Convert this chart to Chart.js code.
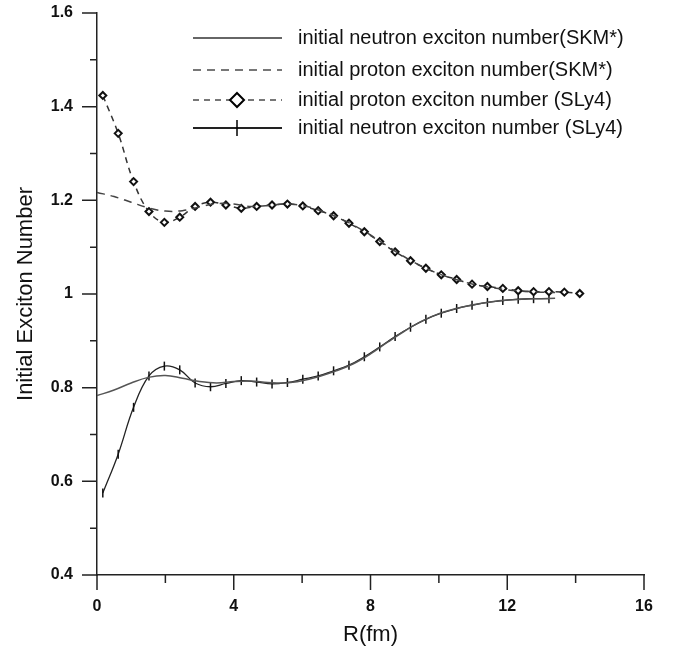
<!DOCTYPE html>
<html>
<head>
<meta charset="utf-8">
<script src="https://cdn.jsdelivr.net/npm/chart.js@4"></script>
<style>
  html, body { margin: 0; padding: 0; background: #fff; }
  #wrap { width: 684px; height: 649px; }
</style>
</head>
<body>
<div id="wrap"><canvas id="chart" width="684" height="649"></canvas></div>
<script>
// radii (fm) of the SKM* curves and of the SLy4 markers
const rSKM = [0, 0.5, 1.0, 1.5, 2.0, 2.5, 3.0, 3.5, 4.0, 4.5, 5.0, 5.5, 6.0, 6.5, 7.0,
    7.5, 8.0, 8.5, 9.0, 9.5, 10.0, 10.5, 11.0, 11.5, 12.0, 12.5, 13.0, 13.4];
const rSLy = [0.17, 0.62, 1.07, 1.52, 1.97, 2.42, 2.87, 3.32, 3.77, 4.22, 4.67, 5.12,
    5.57, 6.02, 6.47, 6.92, 7.37, 7.82, 8.27, 8.72, 9.17, 9.62, 10.07, 10.52, 10.97,
    11.42, 11.87, 12.32, 12.77, 13.22, 13.67, 14.12];

const neutronSKM = [0.783, 0.795, 0.810, 0.822, 0.826, 0.820, 0.813, 0.810, 0.813, 0.814,
    0.811, 0.810, 0.815, 0.824, 0.836, 0.851, 0.872, 0.897, 0.921, 0.942, 0.958, 0.969,
    0.977, 0.983, 0.987, 0.989, 0.990, 0.991];
const protonSKM = [1.217, 1.208, 1.196, 1.184, 1.177, 1.178, 1.186, 1.193, 1.192, 1.187,
    1.189, 1.192, 1.189, 1.179, 1.165, 1.147, 1.126, 1.102, 1.079, 1.059, 1.043, 1.031,
    1.021, 1.014, 1.009, 1.006, 1.004, 1.003];
const protonSLy = [1.424, 1.343, 1.240, 1.176, 1.153, 1.164, 1.187, 1.196, 1.190, 1.183,
    1.187, 1.190, 1.192, 1.188, 1.178, 1.167, 1.151, 1.133, 1.112, 1.090, 1.071, 1.055,
    1.041, 1.031, 1.021, 1.016, 1.012, 1.007, 1.005, 1.005, 1.004, 1.001];
const neutronSLy = [0.575, 0.658, 0.758, 0.825, 0.846, 0.838, 0.810, 0.802, 0.809, 0.815,
    0.812, 0.808, 0.811, 0.818, 0.825, 0.836, 0.848, 0.866, 0.887, 0.909, 0.929, 0.946,
    0.959, 0.969, 0.976, 0.982, 0.986, 0.989, 0.990, 0.990];

const seriesLabels = [
    'initial neutron exciton number(SKM*)',
    'initial proton exciton number(SKM*)',
    'initial proton exciton number (SLy4)',
    'initial neutron exciton number (SLy4)',
];

const pts = (xs, ys) => ys.map((v, i) => ({ x: xs[i], y: v }));

Chart.defaults.font.family = '"Liberation Sans", Arial, sans-serif';
Chart.defaults.color = '#111';

// legend drawn by hand: line sample + marker, like the original figure
const legendBox = {
    id: 'legendBox',
    afterDraw(chart) {
        const ctx = chart.ctx;
        const rows = [38, 70, 100, 128];
        chart.data.datasets.forEach((ds, i) => {
            const y = rows[i];
            ctx.save();
            ctx.strokeStyle = ds.legendColor;
            ctx.lineWidth = 1.8;
            ctx.setLineDash(ds.borderDash || []);
            ctx.beginPath();
            ctx.moveTo(193, y);
            ctx.lineTo(282, y);
            ctx.stroke();
            ctx.setLineDash([]);
            ctx.strokeStyle = '#000';
            ctx.lineWidth = 2;
            if (ds.pointStyle === 'rectRot') {
                ctx.fillStyle = '#fff';
                ctx.beginPath();
                ctx.moveTo(237, y - 7);
                ctx.lineTo(244, y);
                ctx.lineTo(237, y + 7);
                ctx.lineTo(230, y);
                ctx.closePath();
                ctx.fill();
                ctx.stroke();
            } else if (ds.pointStyle === 'line') {
                ctx.lineWidth = 1.5;
                ctx.beginPath();
                ctx.moveTo(237, y - 8);
                ctx.lineTo(237, y + 8);
                ctx.stroke();
            }
            ctx.fillStyle = '#111';
            ctx.font = '20px "Liberation Sans", Arial, sans-serif';
            ctx.textBaseline = 'middle';
            ctx.fillText(ds.label, 298, y);
            ctx.restore();
        });
    }
};

// outward tick marks, long for labelled values, short in between
const axisTicks = {
    id: 'axisTicks',
    afterDraw(chart) {
        const { ctx, scales: { x, y } } = chart;
        ctx.save();
        ctx.strokeStyle = '#222';
        ctx.lineWidth = 1.5;
        ctx.beginPath();
        x.ticks.forEach(t => {
            const px = x.getPixelForValue(t.value);
            const len = Math.round(t.value) % 4 === 0 ? 15 : 8;
            ctx.moveTo(px, x.top);
            ctx.lineTo(px, x.top + len);
        });
        y.ticks.forEach(t => {
            const py = y.getPixelForValue(t.value);
            const len = Math.round(t.value * 10) % 2 === 0 ? 15 : 7;
            ctx.moveTo(y.right - len, py);
            ctx.lineTo(y.right, py);
        });
        ctx.stroke();
        ctx.restore();
    }
};

new Chart(document.getElementById('chart'), {
    type: 'line',
    data: {
        datasets: [{
            label: seriesLabels[0],
            data: pts(rSKM, neutronSKM),
            borderColor: '#555',
            legendColor: '#666',
            borderWidth: 1.5,
            pointRadius: 0,
            tension: 0.4,
        }, {
            label: seriesLabels[1],
            data: pts(rSKM, protonSKM),
            borderColor: '#444',
            legendColor: '#777',
            borderWidth: 1.5,
            borderDash: [8, 6],
            pointRadius: 0,
            tension: 0.4,
        }, {
            label: seriesLabels[2],
            data: pts(rSLy, protonSLy),
            borderColor: '#333',
            legendColor: '#777',
            borderWidth: 1.5,
            borderDash: [6, 5],
            pointStyle: 'rectRot',
            pointRadius: 3.5,
            pointBorderWidth: 2,
            pointBorderColor: '#111',
            pointBackgroundColor: '#fff',
            tension: 0.4,
        }, {
            label: seriesLabels[3],
            data: pts(rSLy, neutronSLy),
            borderColor: '#222',
            legendColor: '#222',
            borderWidth: 1.3,
            pointStyle: 'line',
            pointRotation: 90,
            pointRadius: 4.5,
            pointBorderWidth: 1.5,
            pointBorderColor: '#111',
            tension: 0.4,
        }]
    },
    options: {
        responsive: false,
        animation: false,
        devicePixelRatio: 1,
        layout: { padding: { top: 13, right: 40, left: 0, bottom: 0 } },
        plugins: {
            legend: { display: false },
            tooltip: { enabled: false }
        },
        scales: {
            x: {
                type: 'linear',
                min: 0,
                max: 16,
                grid: { display: false, drawTicks: false },
                border: { display: true, color: '#222', width: 1.5 },
                ticks: {
                    stepSize: 2,
                    padding: 22,
                    maxRotation: 0,
                    font: { size: 16, weight: 'bold' },
                    callback: v => (Math.round(v) % 4 === 0 ? String(v) : '')
                },
                title: {
                    display: true,
                    text: 'R(fm)',
                    font: { size: 22 },
                    padding: { top: 0, bottom: 1 }
                },
                afterFit: s => {
                    s.height = 74;
                    s.paddingLeft = 0;
                    s.paddingRight = 0;
                }
            },
            y: {
                min: 0.4,
                max: 1.6,
                grid: { display: false, drawTicks: false },
                border: { display: true, color: '#222', width: 1.5 },
                ticks: {
                    stepSize: 0.1,
                    padding: 24,
                    font: { size: 16, weight: 'bold' },
                    callback: v => {
                        const k = Math.round(v * 10);
                        if (k % 2 !== 0) return '';
                        return k === 10 ? '1' : (k / 10).toFixed(1);
                    }
                },
                title: {
                    display: true,
                    text: 'Initial Exciton Number',
                    font: { size: 22 },
                    padding: { top: 13, bottom: 0 }
                },
                afterFit: s => {
                    s.width = 97;
                    s.paddingTop = 0;
                    s.paddingBottom = 0;
                }
            }
        }
    },
    plugins: [legendBox, axisTicks]
});
</script>
</body>
</html>
